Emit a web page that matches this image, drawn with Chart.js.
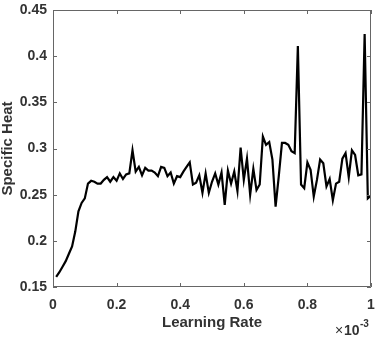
<!DOCTYPE html>
<html>
<head>
<meta charset="utf-8">
<script src="https://cdn.jsdelivr.net/npm/chart.js@4.4.0/dist/chart.umd.min.js"></script>
<style>
html,body{margin:0;padding:0;background:#fff;}
#wrap{width:377px;height:337px;position:relative;}
</style>
</head>
<body>
<div id="wrap"><canvas id="c" width="377" height="337"></canvas></div>
<script>
const learningRate = [0.01,0.02,0.03,0.04,0.05,0.06,0.07,0.08,0.09,0.10,
0.11,0.12,0.13,0.14,0.15,0.16,0.17,0.18,0.19,0.20,
0.21,0.22,0.23,0.24,0.25,0.26,0.27,0.28,0.29,0.30,
0.31,0.32,0.33,0.34,0.35,0.36,0.37,0.38,0.39,0.40,
0.41,0.42,0.43,0.44,0.45,0.46,0.47,0.48,0.49,0.50,
0.51,0.52,0.53,0.54,0.55,0.56,0.57,0.58,0.59,0.60,
0.61,0.62,0.63,0.64,0.65,0.66,0.67,0.68,0.69,0.70,
0.71,0.72,0.73,0.74,0.75,0.76,0.77,0.78,0.79,0.80,
0.81,0.82,0.83,0.84,0.85,0.86,0.87,0.88,0.89,0.90,
0.91,0.92,0.93,0.94,0.95,0.96,0.97,0.98,0.99,1.00];
const specificHeat = [0.161,0.166,0.172,0.178,0.186,0.194,0.210,0.232,0.241,0.246,
0.262,0.265,0.264,0.262,0.262,0.266,0.269,0.264,0.269,0.265,
0.273,0.267,0.272,0.273,0.298,0.275,0.280,0.271,0.279,0.276,
0.276,0.274,0.270,0.280,0.279,0.270,0.274,0.262,0.270,0.269,
0.275,0.280,0.285,0.261,0.263,0.271,0.252,0.273,0.252,0.264,
0.273,0.261,0.274,0.239,0.276,0.262,0.275,0.254,0.301,0.266,
0.289,0.250,0.278,0.255,0.261,0.313,0.304,0.307,0.288,0.237,
0.270,0.306,0.306,0.304,0.297,0.295,0.411,0.261,0.257,0.285,
0.277,0.248,0.266,0.288,0.284,0.259,0.267,0.244,0.262,0.264,
0.289,0.295,0.269,0.298,0.293,0.271,0.272,0.424,0.246,0.249];
const xTicks = [0,0.2,0.4,0.6,0.8,1];
const yTicks = [0.15,0.2,0.25,0.3,0.35,0.4,0.45];
const xTitle = 'Learning Rate';
const yTitle = 'Specific Heat';

const FONT = '"Liberation Sans", Arial, sans-serif';
const TXT = '#333333';
const AX = '#666666';

const boxPlugin = {
  id: 'box',
  afterDraw(chart) {
    const {ctx, chartArea: a, scales: {x, y}} = chart;
    ctx.save();
    ctx.strokeStyle = AX;
    ctx.lineWidth = 1;
    ctx.beginPath();
    ctx.rect(a.left + 0.5, a.top + 0.5, a.right - a.left - 1, a.bottom - a.top - 1);
    ctx.stroke();
    const tl = 4;
    ctx.beginPath();
    xTicks.forEach(v => {
      const px = Math.round(x.getPixelForValue(v)) + 0.5;
      ctx.moveTo(px, a.bottom); ctx.lineTo(px, a.bottom - tl);
      ctx.moveTo(px, a.top); ctx.lineTo(px, a.top + tl);
    });
    yTicks.forEach(v => {
      const py = Math.round(y.getPixelForValue(v)) + 0.5;
      ctx.moveTo(a.left, py); ctx.lineTo(a.left + tl, py);
      ctx.moveTo(a.right, py); ctx.lineTo(a.right - tl, py);
    });
    ctx.stroke();
    // exponent label
    ctx.fillStyle = TXT;
    ctx.textBaseline = 'alphabetic';
    ctx.textAlign = 'left';
    ctx.font = '14px ' + FONT;
    ctx.fillText('\u00d7', 335, 335);
    ctx.font = 'bold 14px ' + FONT;
    ctx.fillText('10', 344, 335);
    ctx.font = 'bold 10px ' + FONT;
    ctx.fillText('-3', 360, 327);
    ctx.restore();
  }
};

new Chart(document.getElementById('c'), {
  type: 'line',
  data: {
    datasets: [{
      data: learningRate.map((v, i) => ({x: v, y: specificHeat[i]})),
      borderColor: '#000000',
      borderWidth: 2.2,
      pointRadius: 0,
      tension: 0,
      fill: false
    }]
  },
  options: {
    responsive: false,
    animation: false,
    events: [],
    layout: {padding: {top: 10, right: 6, left: 0, bottom: 0}},
    plugins: {legend: {display: false}, tooltip: {enabled: false}},
    scales: {
      x: {
        type: 'linear', min: 0, max: 1,
        afterBuildTicks(s) { s.ticks = xTicks.map(v => ({value: v})); },
        afterFit(s) { s.height = 50; s.paddingLeft = 0; s.paddingRight = 0; },
        grid: {display: false, drawTicks: false},
        border: {display: false},
        ticks: {
          color: TXT, padding: 10,
          font: {family: FONT, size: 14, weight: 'bold'},
          callback: v => String(v)
        },
        title: {display: true, text: xTitle, color: TXT,
          font: {family: FONT, size: 15, weight: 'bold', lineHeight: 1},
          padding: {top: 0, bottom: 7}}
      },
      y: {
        type: 'linear', min: 0.15, max: 0.45,
        afterBuildTicks(s) { s.ticks = yTicks.map(v => ({value: v})); },
        afterFit(s) { s.width = 53; s.paddingTop = 0; s.paddingBottom = 0; },
        grid: {display: false, drawTicks: false},
        border: {display: false},
        ticks: {
          color: TXT, padding: 6,
          font: {family: FONT, size: 14, weight: 'bold'},
          callback: v => String(Math.round(v * 100) / 100)
        },
        title: {display: true, text: yTitle, color: TXT,
          font: {family: FONT, size: 15, weight: 'bold', lineHeight: 1},
          padding: {top: 0, bottom: 0}}
      }
    }
  },
  plugins: [boxPlugin]
});
</script>
</body>
</html>
